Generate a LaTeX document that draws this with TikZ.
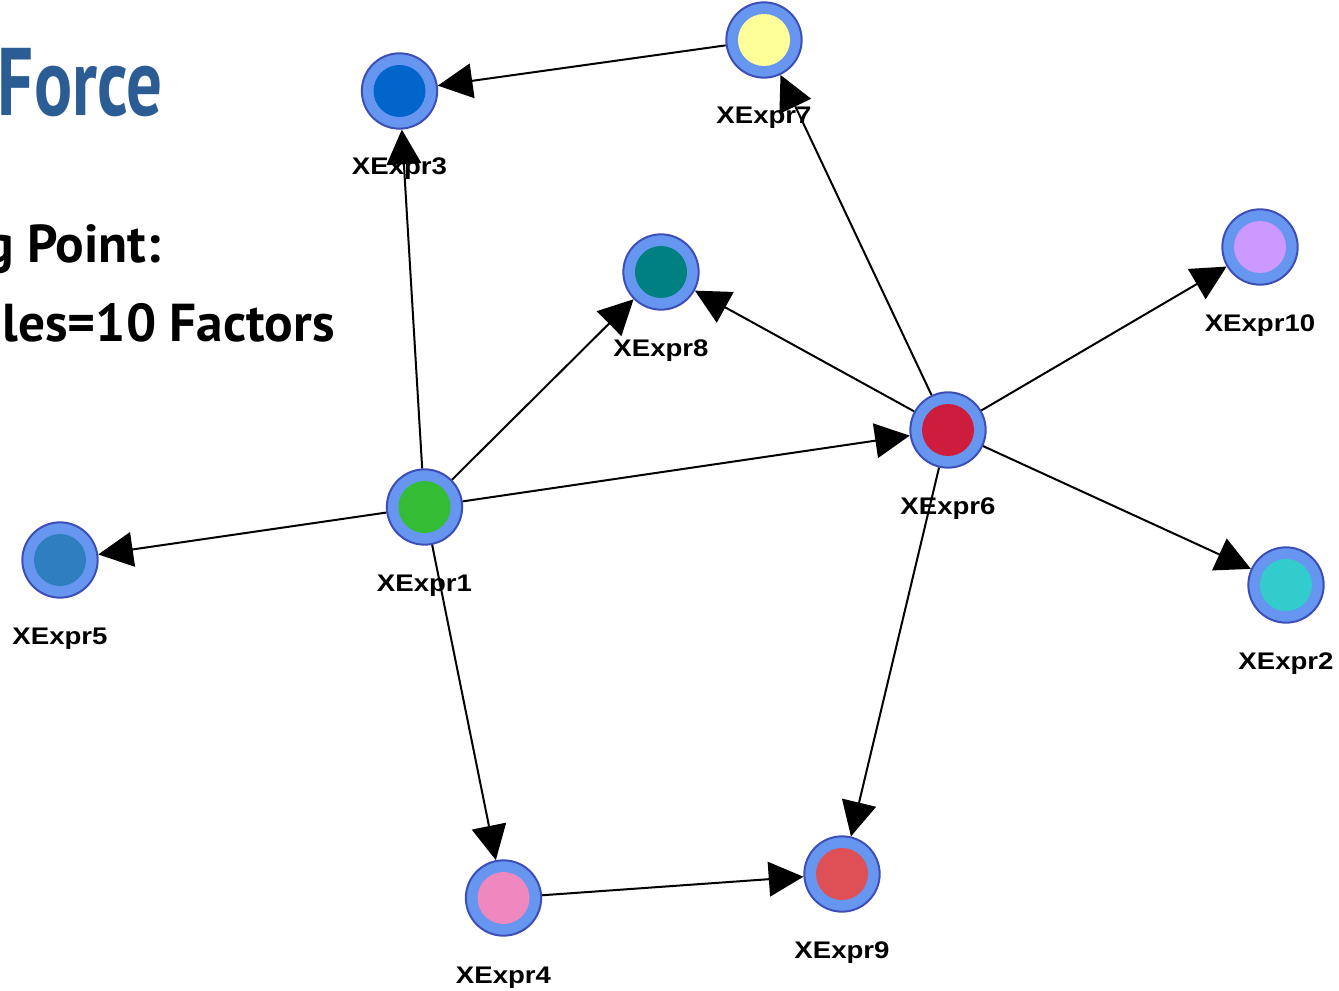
\documentclass[tikz,border=0pt]{standalone}
\usepackage{graphicx}
\usepackage{fontspec}
\setmainfont{Liberation Sans}
\newfontfamily\titlefont{PT Sans}
\usetikzlibrary{arrows.meta}

\definecolor{ring}{RGB}{102,150,240}
\definecolor{ringedge}{RGB}{62,78,184}
\definecolor{titleblue}{RGB}{44,92,148}
\definecolor{c1}{RGB}{52,188,52}
\definecolor{c2}{RGB}{50,204,204}
\definecolor{c3}{RGB}{0,102,204}
\definecolor{c4}{RGB}{238,136,190}
\definecolor{c5}{RGB}{46,126,192}
\definecolor{c6}{RGB}{206,28,60}
\definecolor{c7}{RGB}{255,255,153}
\definecolor{c8}{RGB}{0,128,128}
\definecolor{c9}{RGB}{222,80,86}
\definecolor{c10}{RGB}{204,153,255}

\newcommand{\widelabel}[1]{\scalebox{1.15}[1]{#1}}

\begin{document}
\begin{tikzpicture}[x=0.75pt,y=-0.75pt,
  xnode/.style={circle, draw=ringedge, line width=1.5pt, fill=ring,
    minimum size=56.5pt, inner sep=0pt,
    path picture={\fill[#1] (path picture bounding box.center) circle (19.5pt);}},
  lbl/.style={anchor=base, inner sep=0pt,
    font=\bfseries\fontsize{18pt}{18pt}\selectfont},
  title/.style={anchor=base east, inner sep=0pt},
  edge/.style={line width=1.5pt, -{Triangle[length=26pt,width=26pt]}}
]
\useasboundingbox (0,0) rectangle (1339,991);
\clip (0,0) rectangle (1339,991);

% heading text on the left
\node[title, text=titleblue, font=\titlefont\bfseries\fontsize{72pt}{72pt}\selectfont]
  (head) at (163,116) {\scalebox{0.74}[1]{Force}};
\node[title, font=\titlefont\bfseries\fontsize{40pt}{40pt}\selectfont]
  (line1) at (161,263) {g Point:};
\node[title, font=\titlefont\bfseries\fontsize{40pt}{40pt}\selectfont]
  (line2) at (335,342) {les=10 Factors};

% graph nodes
\node[xnode=c1]  (x1)  at (424.5,507) {};
\node[xnode=c2]  (x2)  at (1286,585) {};
\node[xnode=c3]  (x3)  at (399.5,91) {};
\node[xnode=c4]  (x4)  at (503.5,898) {};
\node[xnode=c5]  (x5)  at (60,560) {};
\node[xnode=c6]  (x6)  at (948,430) {};
\node[xnode=c7]  (x7)  at (764,40) {};
\node[xnode=c8]  (x8)  at (661,272) {};
\node[xnode=c9]  (x9)  at (842,874) {};
\node[xnode=c10] (x10) at (1260,247) {};

% node labels
\node[lbl] (t1)  at (424.5,591) {\widelabel{XExpr1}};
\node[lbl] (t2)  at (1286,669) {\widelabel{XExpr2}};
\node[lbl] (t3)  at (399.5,175) {\widelabel{XExpr3}};
\node[lbl] (t4)  at (503.5,983) {\widelabel{XExpr4}};
\node[lbl] (t5)  at (60,644) {\widelabel{XExpr5}};
\node[lbl] (t6)  at (948,514) {\widelabel{XExpr6}};
\node[lbl] (t7)  at (764,124) {\widelabel{XExpr7}};
\node[lbl] (t8)  at (661,357) {\widelabel{XExpr8}};
\node[lbl] (t9)  at (842,958) {\widelabel{XExpr9}};
\node[lbl] (t10) at (1260,332) {\widelabel{XExpr10}};

% directed edges
\draw[edge] (x7) -- (x3);
\draw[edge] (x1) -- (x3);
\draw[edge] (x6) -- (x7);
\draw[edge] (x1) -- (x8);
\draw[edge] (x6) -- (x8);
\draw[edge] (x6) -- (x10);
\draw[edge] (x1) -- (x6);
\draw[edge] (x1) -- (x5);
\draw[edge] (x6) -- (x2);
\draw[edge] (x1) -- (x4);
\draw[edge] (x6) -- (x9);
\draw[edge] (x4) -- (x9);
\end{tikzpicture}
\end{document}
